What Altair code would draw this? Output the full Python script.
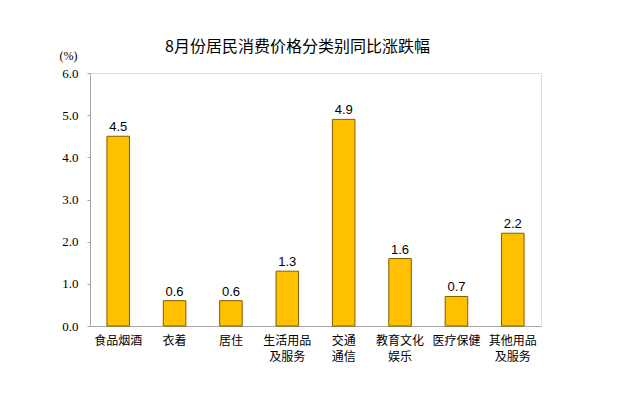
import altair as alt
import pandas as pd

categories = ["食品烟酒", "衣着", "居住", "生活用品\n及服务", "交通\n通信", "教育文化\n娱乐", "医疗保健", "其他用品\n及服务"]
values = [4.5, 0.6, 0.6, 1.3, 4.9, 1.6, 0.7, 2.2]
y_ticks = [0, 1, 2, 3, 4, 5, 6]

df = pd.DataFrame({"cat": categories, "val": values})
df["lab"] = df["val"].map(lambda v: f"{v:.1f}")

x = alt.X("cat:N", sort=categories, title=None,
          scale=alt.Scale(paddingInner=0.6, paddingOuter=0.3),
          axis=alt.Axis(labelExpr="split(datum.label, '\\n')", labelAngle=0,
                        labelFont="Noto Sans CJK SC", labelFontSize=12, labelColor="#000000",
                        labelLineHeight=16, labelPadding=9, ticks=False,
                        domainColor="#a6a6a6", labelBaseline="top"))
y = alt.Y("val:Q", scale=alt.Scale(domain=[0, 6], nice=False),
          axis=alt.Axis(values=y_ticks, format=".1f", grid=False, tickSize=3,
                        tickColor="#a6a6a6", domainColor="#a6a6a6",
                        labelFont="Liberation Serif", labelFontSize=13, labelColor="#000000",
                        labelPadding=9, title="(%)", titleAngle=0, titleFont="Liberation Serif",
                        titleFontSize=12, titleFontWeight="normal", titleX=-22, titleY=-18,
                        titleAlign="center", titleBaseline="middle"))

bars = alt.Chart(df).mark_bar(color="#FFC000", stroke="#7f6000", strokeWidth=1).encode(x=x, y=y)
labels = alt.Chart(df).mark_text(baseline="bottom", dy=-2, font="Liberation Sans", fontSize=13,
                                 color="#000000").encode(x=alt.X("cat:N", sort=categories), y="val:Q", text="lab:N")

chart = alt.layer(bars, labels).properties(
    width=451, height=253,
    title=alt.TitleParams("8月份居民消费价格分类别同比涨跌幅", font="Noto Sans CJK SC", fontSize=16,
                          fontWeight="normal", color="#000000", anchor="middle", dx=-18, dy=20, offset=14),
    autosize=alt.AutoSizeParams(type="none"),
    padding={"left": 82, "top": 65, "right": 90, "bottom": 59},
).configure_view(stroke="#a6a6a6", strokeWidth=1.5).configure(background="white")

chart.save("out.html", embed_options={"renderer": "svg", "actions": False})
